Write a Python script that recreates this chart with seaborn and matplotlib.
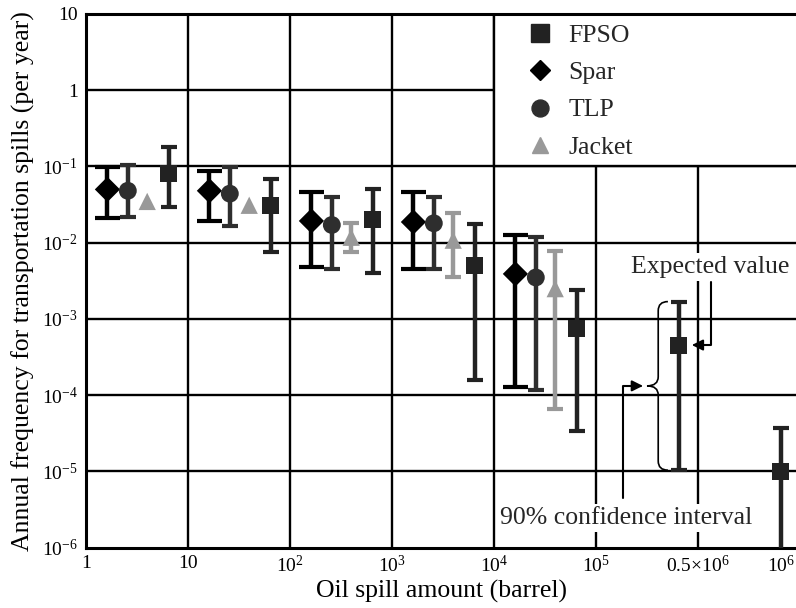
import numpy as np
import pandas as pd
import matplotlib
matplotlib.use("Agg")
import matplotlib.pyplot as plt
import seaborn as sns
from matplotlib.path import Path
from matplotlib.patches import PathPatch, Rectangle
from matplotlib.lines import Line2D

# Spill-size bins (bin i spans tick i to tick i+1 on the x axis)
tick_labels = ["1", "10", r"$\mathregular{10^{2}}$", r"$\mathregular{10^{3}}$",
               r"$\mathregular{10^{4}}$", r"$\mathregular{10^{5}}$",
               r"0.5×$\mathregular{10^{6}}$"]
last_label = r"$\mathregular{10^{6}}$"

# Expected annual frequency and 90% confidence bounds per structure type
spar_mean = [0.050, 0.048, 0.0193, 0.0187, 0.0039]
spar_low = [0.021, 0.0195, 0.0048, 0.0045, 0.000127]
spar_high = [0.098, 0.088, 0.046, 0.046, 0.0125]

tlp_mean = [0.048, 0.044, 0.0171, 0.018, 0.0035]
tlp_low = [0.022, 0.0164, 0.0045, 0.0045, 0.000116]
tlp_high = [0.105, 0.099, 0.040, 0.040, 0.0118]

jacket_mean = [0.0348, 0.031, 0.0118, 0.0108, 0.0025]
jacket_low = [np.nan, np.nan, 0.0075, 0.0036, 6.5e-5]
jacket_high = [np.nan, np.nan, 0.0183, 0.0248, 0.0077]

fpso_mean = [0.081, 0.031, 0.0203, 0.0050, 0.00075, 0.000455, 1.0e-5]
fpso_low = [0.029, 0.0076, 0.0040, 0.000158, 3.4e-5, 1.04e-5, 1e-7]
fpso_high = [0.178, 0.068, 0.051, 0.0176, 0.0024, 0.00169, 3.7e-5]

series = {
    "Spar": dict(mean=spar_mean, low=spar_low, high=spar_high, offset=0.21,
                 marker="D", color="#000000", s=165, cap=9.0),
    "TLP": dict(mean=tlp_mean, low=tlp_low, high=tlp_high, offset=0.41,
                marker="o", color="#2e2e2e", s=165, cap=6.0),
    "Jacket": dict(mean=jacket_mean, low=jacket_low, high=jacket_high, offset=0.60,
                   marker="^", color="#999999", s=155, cap=6.0),
    "FPSO": dict(mean=fpso_mean, low=fpso_low, high=fpso_high, offset=0.81,
                 marker="s", color="#222222", s=150, cap=6.0),
}

rows = []
for name, d in series.items():
    for i, (m, lo, hi) in enumerate(zip(d["mean"], d["low"], d["high"])):
        rows.append(dict(structure=name, x=i + d["offset"], mean=m, low=lo, high=hi))
df = pd.DataFrame(rows)

sns.set_theme(style="white")
plt.rcParams["font.family"] = ["Liberation Serif", "DejaVu Serif"]
plt.rcParams["mathtext.fontset"] = "custom"
plt.rcParams["mathtext.rm"] = "Liberation Serif"

fig = plt.figure(figsize=(7.96, 6.08), dpi=100)
ax = fig.add_axes([86 / 796, 1 - 547.7 / 608, (796 - 86) / 796, (547.7 - 14) / 608])
ax.set_yscale("log")
xmax = (796 - 86) / 102.0
ax.set_xlim(0, xmax)
ax.set_ylim(1e-6, 10)

# grid
grid_kw = dict(color="black", lw=1.7, zorder=0.5)
for i in range(1, 7):
    ax.axvline(i, **grid_kw)
for e in range(-5, 1):
    ax.axhline(10.0 ** e, **grid_kw)

# legend area (open on the right, clipped at the axes edge)
ax.add_patch(Rectangle((4, 0.1), xmax + 1 - 4, 100 - 0.1, facecolor="white",
                       edgecolor="black", lw=1.7, zorder=1))

# error bars and markers
for name, d in series.items():
    sub = df[df.structure == name]
    ok = sub.low.notna()
    e = sub[ok]
    ax.errorbar(e.x, e["mean"], yerr=[e["mean"] - e.low, e.high - e["mean"]],
                fmt="none", ecolor=d["color"], elinewidth=3.2, capsize=d["cap"],
                capthick=3.0, zorder=3)
    sns.scatterplot(data=sub, x="x", y="mean", marker=d["marker"], color=d["color"],
                    s=d["s"], edgecolor="none", linewidth=0, ax=ax, zorder=4,
                    legend=False)

# ticks and labels
xticks = list(range(7)) + [6 + series["FPSO"]["offset"]]
ax.set_xticks(xticks)
ax.set_xticklabels(tick_labels + [last_label], fontsize=14)
yt = [10.0 ** e for e in range(-6, 2)]
ylabels = [r"$\mathregular{10^{%d}}$" % e for e in range(-6, 0)] + ["1", "10"]
ax.set_yticks(yt)
ax.set_yticklabels(ylabels, fontsize=14)
ax.minorticks_off()
ax.tick_params(axis="both", length=0, colors="black")
ax.tick_params(axis="x", pad=5)
ax.tick_params(axis="y", pad=6)
ax.set_xlabel("Oil spill amount (barrel)", fontsize=18.5, color="black", labelpad=3)
ax.set_ylabel("Annual frequency for transportation spills (per year)", fontsize=18.5,
              color="black", labelpad=5)

for side in ["left", "bottom", "top"]:
    ax.spines[side].set_visible(True)
    ax.spines[side].set_color("black")
    ax.spines[side].set_linewidth(2.2)
ax.spines["right"].set_visible(False)

# legend
handles = [
    Line2D([], [], ls="none", marker="s", color="#222222", markersize=12.5),
    Line2D([], [], ls="none", marker="D", color="#000000", markersize=10.5),
    Line2D([], [], ls="none", marker="o", color="#2e2e2e", markersize=12.2),
    Line2D([], [], ls="none", marker="^", color="#999999", markersize=12.2),
]
ax.legend(handles, ["FPSO", "Spar", "TLP", "Jacket"], loc="upper left",
          bbox_to_anchor=(0.607, 1.0), frameon=False, fontsize=18.5,
          handlelength=1.0, handletextpad=0.6, labelspacing=0.55, borderaxespad=0.0)

# annotation for one interval
fx = 5 + series["FPSO"]["offset"]
fm, flo, fhi = fpso_mean[5], fpso_low[5], fpso_high[5]
top, bot = np.log10(fhi), np.log10(flo)
mid = 0.5 * (top + bot)
r = 0.12
hx, sx, px = fx - 0.105, fx - 0.20, fx - 0.31
verts = [(hx, top), (sx, top), (sx, top - r), (sx, mid + r), (sx, mid), (px, mid),
         (sx, mid), (sx, mid - r), (sx, bot + r), (sx, bot), (hx, bot)]
codes = [Path.MOVETO, Path.CURVE3, Path.CURVE3, Path.LINETO, Path.CURVE3, Path.CURVE3,
         Path.CURVE3, Path.CURVE3, Path.LINETO, Path.CURVE3, Path.CURVE3]
verts = [(vx, 10.0 ** vy) for vx, vy in verts]
ax.add_patch(PathPatch(Path(verts, codes), facecolor="none", edgecolor="black",
                       lw=1.2, zorder=5))

arrow_kw = dict(arrowstyle="-|>", color="black", lw=1.5, mutation_scale=16,
                shrinkA=0, shrinkB=0)
ax.annotate("", xy=(px - 0.04, 10.0 ** mid), xytext=(fx - 0.55, 4.5e-6),
            arrowprops=dict(connectionstyle="angle,angleA=90,angleB=0,rad=0", **arrow_kw),
            zorder=5)
ax.annotate("", xy=(fx + 0.13, fm), xytext=(fx + 0.32, 3.1e-3),
            arrowprops=dict(connectionstyle="angle,angleA=90,angleB=0,rad=0", **arrow_kw),
            zorder=5)

ax.text(fx + 0.31, 4.84e-3, "Expected value", fontsize=18.5, ha="center", va="center",
        bbox=dict(facecolor="white", edgecolor="none", pad=2), zorder=6)
ax.text(5.30, 2.45e-6, "90% confidence interval", fontsize=18.5, ha="center",
        va="center", bbox=dict(facecolor="white", edgecolor="none", pad=2), zorder=6)

fig.savefig("out.png", dpi=100)
